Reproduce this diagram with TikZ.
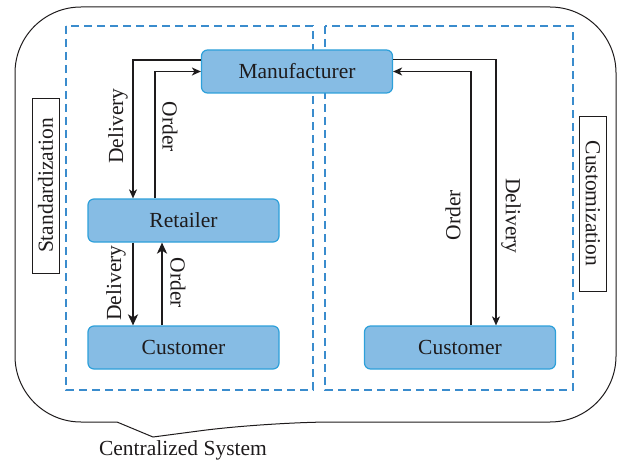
\documentclass[tikz,border=0pt]{standalone}
\usepackage{fontspec}
\setmainfont{Liberation Serif}
\usetikzlibrary{arrows.meta,calc}
\definecolor{nodefill}{RGB}{134,188,228}
\definecolor{nodeborder}{RGB}{45,160,218}
\definecolor{dashblue}{RGB}{58,140,205}
\definecolor{ink}{RGB}{30,27,28}
\tikzset{
  box/.style={draw=nodeborder,fill=nodefill,rounded corners=6pt,line width=1.2pt,minimum width=191pt,minimum height=43pt,inner sep=0pt,text=ink,font=\fontsize{21.5}{25}\selectfont},
  lbl/.style={text=ink,font=\fontsize{21.5}{25}\selectfont,inner sep=0pt},
  sidebox/.style={draw=ink,line width=0.9pt,minimum width=175pt,minimum height=27pt,inner sep=0pt,text=ink,font=\fontsize{21.5}{25}\selectfont},
  zone/.style={draw=dashblue,line width=1.2pt,dash pattern=on 8pt off 5pt},
  thinarr/.style={draw=ink,line width=1.4pt,-{Stealth[length=9pt,width=8pt,inset=2.5pt]}},
  thickarr/.style={draw=ink,line width=2.9pt,-{Stealth[length=11pt,width=10pt,inset=3pt]}}
}
\begin{document}
\begin{tikzpicture}[x=1pt,y=-1pt]
\useasboundingbox (0,0) rectangle (617,462);
% outer system outline with callout notch
\draw[ink,line width=1pt] (267,422) -- (153,437) -- (117,422)
  [rounded corners=66pt] -- (15,422) -- (15,7) -- (616,7) -- (616,422) -- cycle;
\node[lbl] (central) at (183,450) {Centralized System};
% dashed zones
\draw[zone] (66,26) rectangle (313,390);
\draw[zone] (325,26) rectangle (573,390);
% nodes
\node[box] (mfr) at (297,71.5) {Manufacturer};
\node[box] (ret) at (183.5,220.5) {Retailer};
\node[box] (cusL) at (183.5,347.5) {Customer};
\node[box] (cusR) at (460,347.5) {Customer};
\node[sidebox,rotate=90] (std) at (45.5,185.5) {Standardization};
\node[sidebox,rotate=-90] (cust) at (593,203.5) {Customization};
% connectors upper left
\draw[thinarr] ([yshift=11.5pt]mfr.west) -| ([xshift=-50.5pt]ret.north);
\draw[thinarr] ([xshift=-28.5pt]ret.north) |- (mfr.west);
% connectors lower left
\draw[thickarr] ([xshift=-50.5pt]ret.south) -- ([xshift=-50.5pt]cusL.north);
\draw[thickarr] ([xshift=-21.5pt]cusL.north) -- ([xshift=-21.5pt]ret.south);
% connectors right
\draw[thinarr] ([yshift=12pt]mfr.east) -| ([xshift=36pt]cusR.north);
\draw[thinarr] ([xshift=11pt]cusR.north) |- (mfr.east);
% labels
\node[lbl,rotate=90] (l1) at (118,126) {Delivery};
\node[lbl,rotate=-90] (l2) at (170,127) {Order};
\node[lbl,rotate=90] (l3) at (116,283) {Delivery};
\node[lbl,rotate=-90] (l4) at (178,283) {Order};
\node[lbl,rotate=90] (l5) at (453,215) {Order};
\node[lbl,rotate=-90] (l6) at (511,216) {Delivery};
\end{tikzpicture}
\end{document}
